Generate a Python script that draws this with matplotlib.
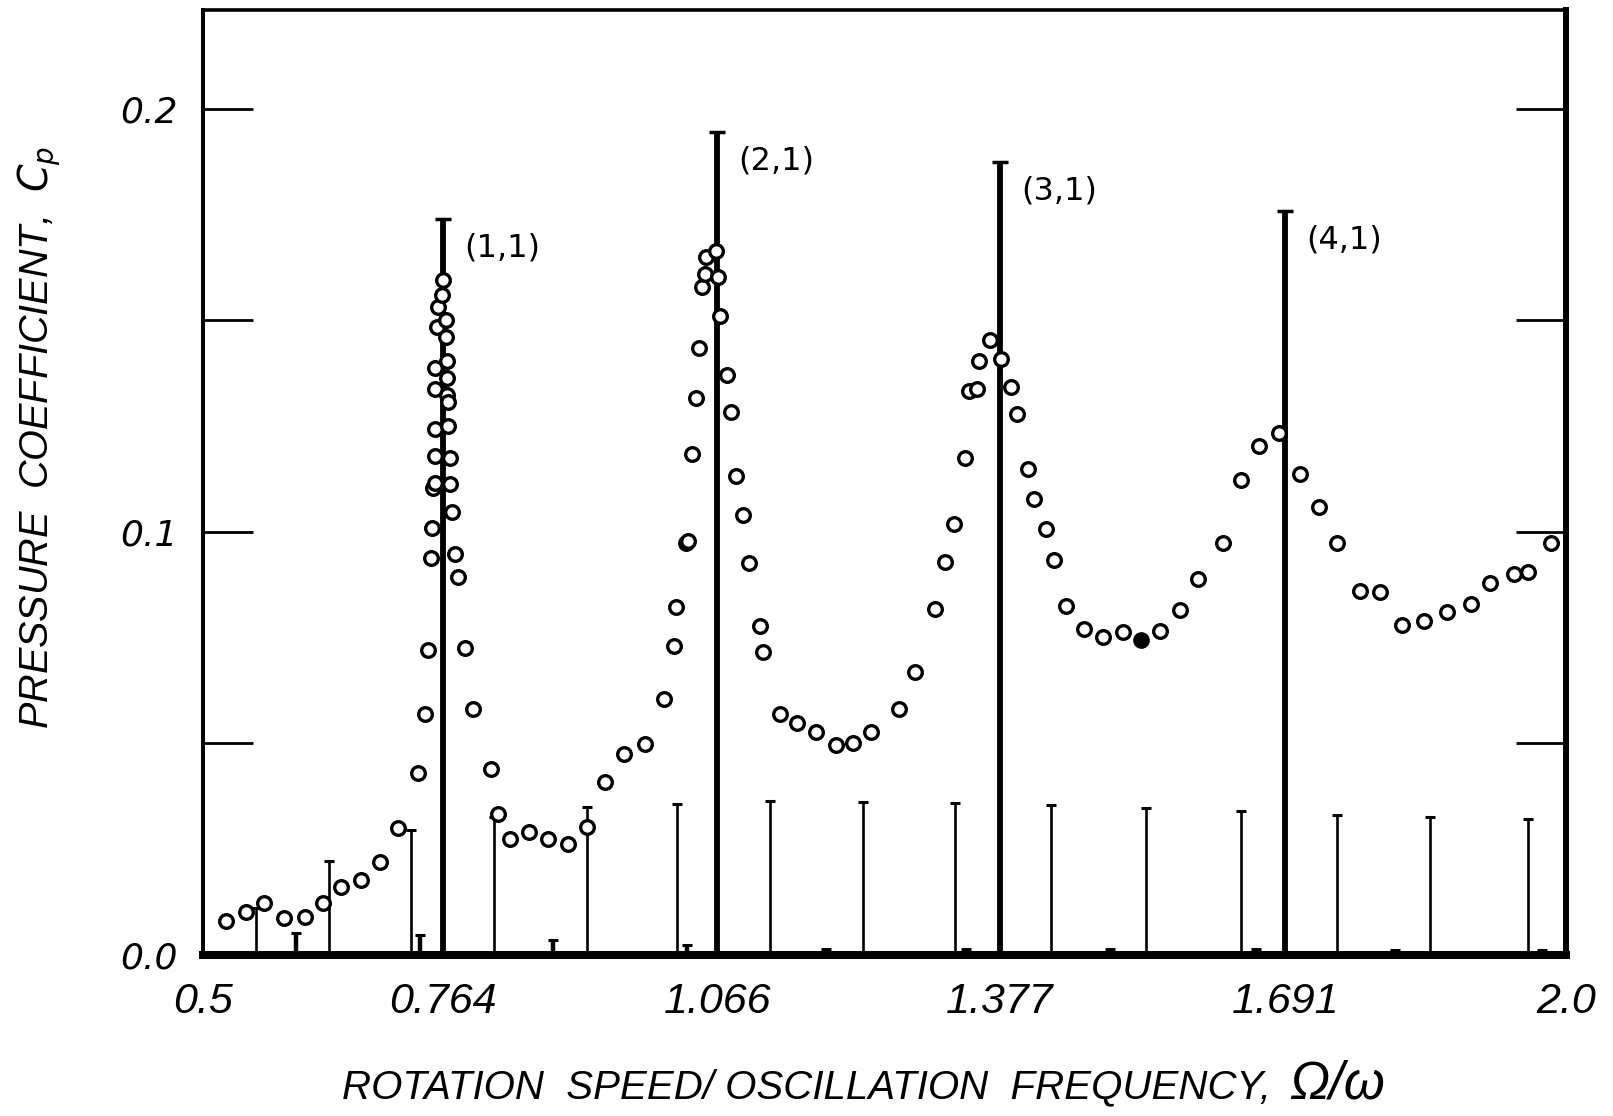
import matplotlib
matplotlib.use("Agg")
import matplotlib.pyplot as plt

# Measured pressure coefficient (open circles)
omega_ratio = [
    0.525, 0.547, 0.567, 0.589, 0.612, 0.632, 0.652, 0.674, 0.695, 0.715,
    0.737, 0.744, 0.747,
    0.751, 0.752, 0.753, 0.755, 0.755, 0.755, 0.755, 0.755, 0.757, 0.758,
    0.763, 0.764, 0.767, 0.767, 0.768, 0.768, 0.768, 0.770, 0.769, 0.772,
    0.772, 0.774, 0.777, 0.780,
    0.788, 0.797, 0.817, 0.825, 0.838, 0.859, 0.880, 0.902, 0.923, 0.942,
    0.963, 0.986, 1.007, 1.018, 1.021, 1.031, 1.034, 1.038, 1.042, 1.046,
    1.049, 1.052, 1.054, 1.064, 1.067, 1.069, 1.077, 1.081, 1.086, 1.094,
    1.101, 1.113, 1.116, 1.135, 1.154, 1.174, 1.196, 1.215, 1.235, 1.266,
    1.284, 1.305, 1.316, 1.326, 1.338, 1.343, 1.352, 1.354, 1.366, 1.378,
    1.389, 1.396, 1.408, 1.415, 1.428, 1.437, 1.450, 1.470, 1.490, 1.512,
    1.553, 1.575, 1.595, 1.622, 1.642, 1.662, 1.684, 1.707, 1.728, 1.748,
    1.773, 1.795, 1.819, 1.844, 1.869, 1.895, 1.916, 1.943, 1.958, 1.983,
]
cp = [
    0.0080, 0.0101, 0.0122, 0.0087, 0.0089, 0.0122, 0.0160, 0.0176, 0.0219, 0.0300,
    0.0428, 0.0569, 0.0720,
    0.0937, 0.1008, 0.1102, 0.1115, 0.1178, 0.1242, 0.1336, 0.1386, 0.1484, 0.1530,
    0.1559, 0.1595, 0.1500, 0.1461, 0.1404, 0.1362, 0.1323, 0.1307, 0.1249, 0.1175,
    0.1112, 0.1047, 0.0948, 0.0893,
    0.0725, 0.0581, 0.0439, 0.0332, 0.0272, 0.0290, 0.0272, 0.0261, 0.0302, 0.0409,
    0.0474, 0.0498, 0.0603, 0.0729, 0.0821, 0.0973, 0.0977, 0.1183, 0.1316, 0.1435,
    0.1579, 0.1610, 0.1650, 0.1664, 0.1602, 0.1509, 0.1370, 0.1283, 0.1131, 0.1040,
    0.0926, 0.0777, 0.0716, 0.0569, 0.0547, 0.0526, 0.0495, 0.0499, 0.0526, 0.0580,
    0.0669, 0.0816, 0.0927, 0.1018, 0.1173, 0.1333, 0.1336, 0.1403, 0.1454, 0.1409,
    0.1342, 0.1279, 0.1149, 0.1077, 0.1005, 0.0933, 0.0825, 0.0769, 0.0750, 0.0763,
    0.0764, 0.0815, 0.0889, 0.0974, 0.1122, 0.1202, 0.1232, 0.1136, 0.1057, 0.0974,
    0.0860, 0.0856, 0.0779, 0.0788, 0.0809, 0.0829, 0.0878, 0.0900, 0.0905, 0.0974,
]

# Single point shown with a filled circle
filled_ratio = [1.532]
filled_cp = [0.0744]

# Predicted (m, n) resonance lines
mode_ratio = [0.764, 1.066, 1.377, 1.691]
mode_height = [0.1740, 0.1945, 0.1874, 0.1758]
mode_labels = ["(1,1)", "(2,1)", "(3,1)", "(4,1)"]

# Secondary resonance lines
line_ratio = [0.558, 0.639, 0.729, 0.820, 0.922, 1.022, 1.124, 1.226,
              1.328, 1.433, 1.538, 1.642, 1.748, 1.850, 1.958]
line_height = [0.0110, 0.0221, 0.0294, 0.0326, 0.0349, 0.0357, 0.0363, 0.0361,
               0.0359, 0.0353, 0.0346, 0.0339, 0.0330, 0.0324, 0.0320]

# Short stubs next to the baseline
stub_ratio = [0.602, 0.739, 0.885, 1.033, 1.186, 1.340, 1.498, 1.659, 1.812, 1.973]
stub_height = [0.0052, 0.0046, 0.0034, 0.0022, 0.0014, 0.0014, 0.0013, 0.0012, 0.0010, 0.0010]

xtick_values = [0.5, 0.764, 1.066, 1.377, 1.691, 2.0]
xtick_labels = ["0.5", "0.764", "1.066", "1.377", "1.691", "2.0"]
ytick_values = [0.0, 0.05, 0.1, 0.15, 0.2]
ytick_labels = ["0.0", "", "0.1", "", "0.2"]

LETTER = ["Liberation Sans", "DejaVu Sans"]

fig = plt.figure(figsize=(16.13, 11.16), dpi=100)
ax = fig.add_axes([0.1259, 0.1447, 0.8450, 0.8463])
ax.set_xlim(0.5, 2.0)
ax.set_ylim(0.0, 0.2233)

# resonance lines
ax.vlines(mode_ratio, 0, mode_height, colors="black", linewidth=4.2, zorder=2)
ax.plot(mode_ratio, mode_height, linestyle="none", marker="_", markersize=11,
        markeredgewidth=2.5, color="black", zorder=2)
ax.vlines(line_ratio, 0, line_height, colors="black", linewidth=1.9, zorder=2)
ax.plot(line_ratio, line_height, linestyle="none", marker="_", markersize=7,
        markeredgewidth=2.2, color="black", zorder=2)
ax.vlines(stub_ratio, 0, stub_height, colors="black", linewidth=3.2, zorder=2)
ax.plot(stub_ratio, stub_height, linestyle="none", marker="_", markersize=7,
        markeredgewidth=2.2, color="black", zorder=2)

for xv, hv, lab in zip(mode_ratio, mode_height, mode_labels):
    ax.annotate(lab, xy=(xv, hv), xytext=(15, -21), textcoords="offset points",
                ha="left", va="center", fontsize=23, family="DejaVu Sans")

# measured data
ax.plot(omega_ratio, cp, linestyle="none", marker="o", markersize=9.8,
        markeredgewidth=2.4, markerfacecolor="white", markeredgecolor="black",
        zorder=4)
ax.plot(filled_ratio, filled_cp, linestyle="none", marker="o", markersize=10.5,
        markeredgewidth=1.5, markerfacecolor="black", markeredgecolor="black",
        zorder=4)

# frame
ax.spines["left"].set_linewidth(2.9)
ax.spines["top"].set_linewidth(2.6)
ax.spines["right"].set_linewidth(4.3)
ax.spines["bottom"].set_linewidth(5.8)

ax.set_xticks(xtick_values)
ax.set_xticklabels(xtick_labels, family=LETTER, style="italic", fontsize=31)
ax.tick_params(axis="x", length=0, pad=20)

ax.set_yticks(ytick_values)
ax.set_yticklabels(ytick_labels, family="DejaVu Sans", style="italic", fontsize=26)
ax.tick_params(axis="y", direction="in", length=36, width=2.0, pad=18,
               left=True, right=True)

fig.text(0.0248, 0.6084, r"PRESSURE  COEFFICIENT,  $C_p$", rotation=90,
         ha="center", va="center", family=LETTER, style="italic", fontsize=28.5)

# axis title: main words, then the larger Ω/ω right after them
xl = fig.text(0.2123, 0.026, "ROTATION  SPEED/ OSCILLATION  FREQUENCY,",
              ha="left", va="center", family=LETTER, style="italic", fontsize=29)
renderer = fig.canvas.get_renderer()
bb = xl.get_window_extent(renderer=renderer)
fig.text((bb.x1 + 18) / fig.bbox.width, 0.028, "Ω/ω", ha="left", va="center",
         family=LETTER, style="italic", fontsize=38)

fig.savefig("out.png", dpi=100)
